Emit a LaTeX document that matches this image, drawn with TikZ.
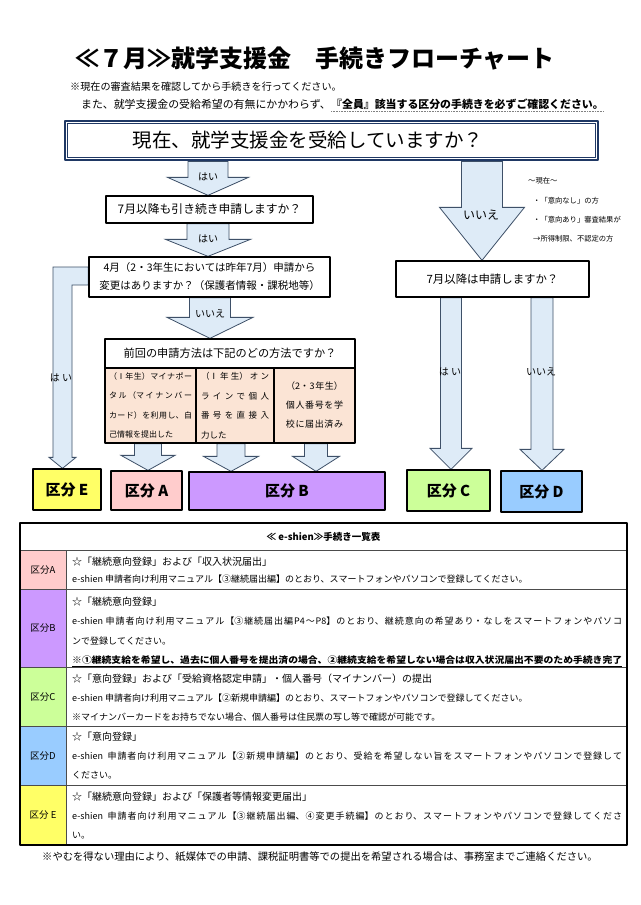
\documentclass[tikz,border=0pt]{standalone}
\usepackage{fontspec}
\setmainfont{Noto Sans CJK JP}
\usepackage{graphicx}
\usetikzlibrary{backgrounds,calc}
\XeTeXlinebreaklocale "ja"
\XeTeXlinebreakskip=0pt plus 1.5pt

\definecolor{navy}{HTML}{1F3864}
\definecolor{arrowfill}{HTML}{DEEBF7}
\definecolor{arrowline}{HTML}{3E5068}
\definecolor{peach}{HTML}{FBE4D5}
\definecolor{kuA}{HTML}{FFCCCC}
\definecolor{kuB}{HTML}{CC99FF}
\definecolor{kuC}{HTML}{CCFF99}
\definecolor{kuD}{HTML}{99CCFF}
\definecolor{kuE}{HTML}{FFFF66}

% downward block arrow: start, tip, half shaft, half head, head length
\newcommand{\blockarr}[5]{%
  \draw[arrowbody] let \p1=(#1), \p2=(#2) in
    (\x2-#3pt,\y1) -- (\x2-#3pt,\y2+#5pt) -- (\x2-#4pt,\y2+#5pt) -- (\x2,\y2)
    -- (\x2+#4pt,\y2+#5pt) -- (\x2+#3pt,\y2+#5pt) -- (\x2+#3pt,\y1) -- cycle;}

\begin{document}
\begin{tikzpicture}[x=1pt,y=-1pt,line join=round,
  qbox/.style={draw,line width=1.3pt,fill=white,inner sep=0pt},
  subbox/.style={draw,line width=1.2pt,fill=peach,inner ysep=0pt,minimum height=75pt,align=justify},
  kubun/.style={draw,line width=1.3pt,inner sep=0pt,font=\fontsize{15}{18}\bfseries\selectfont},
  arrowbody/.style={fill=arrowfill,draw=arrowline,line width=0.8pt},
  yesno/.style={font=\fontsize{10}{12}\selectfont},
  cell/.style={anchor=base west,inner sep=0pt,text width=550pt,align=justify},
  rowline/.style={draw=gray!60!black,line width=0.8pt}]
\useasboundingbox (0,0) rectangle (640,905);

% title and notes
\node[font=\fontsize{24}{28}\bfseries\selectfont] (title) at (315,58) {≪７月≫就学支援金　手続きフローチャート};
\node[anchor=west,inner sep=0pt,font=\fontsize{10.1}{12}\selectfont] (note1) at (70,87) {※現在の審査結果を確認してから手続きを行ってください。};
\node[anchor=base west,inner sep=0pt,font=\fontsize{10.9}{12}\selectfont] (note2) at (70,108) {　また、就学支援金の受給希望の有無にかかわらず、};
\node[anchor=base west,inner sep=0pt,font=\fontsize{10.9}{12}\bfseries\selectfont] (note2b) at (note2.base east) {『全員』該当する区分の手続きを必ずご確認ください。};
\draw[gray,densely dotted,line width=0.6pt] ([yshift=-1.5pt]note2b.south west) -- ([yshift=-1.5pt]note2b.south east);

% questions
\node[draw=navy,line width=2.8pt,minimum width=533pt,minimum height=39pt,inner sep=0pt] (q0) at (331.5,140.5) {};
\draw[navy,line width=1.1pt] ([shift={(3.6pt,-3.6pt)}]q0.north west) rectangle ([shift={(-3.6pt,3.6pt)}]q0.south east);
\node[font=\fontsize{19.5}{22}\selectfont] (q0txt) at (308,140.5) {現在、就学支援金を受給していますか？};
\node[qbox,minimum width=207pt,minimum height=27pt,font=\fontsize{11.8}{14}\selectfont] (q1) at (209.5,209.5) {7月以降も引き続き申請しますか？};
\node[qbox,minimum width=241pt,minimum height=40pt,align=center,font=\fontsize{10.5}{18}\selectfont] (q2) at (209.5,277) {4月（2・3年生においては昨年7月）申請から\\変更はありますか？（保護者情報・課税地等）};
\node[qbox,minimum width=250pt,minimum height=29pt,font=\fontsize{11.2}{14}\selectfont] (q3) at (230,353.5) {前回の申請方法は下記のどの方法ですか？};
\node[subbox,minimum width=91pt,text width=83pt,inner xsep=4pt,font=\fontsize{8}{19.5}\selectfont] (m1) at (150.5,405.5) {（Ⅰ年生）マイナポー\linebreak タル（マイナンバー\linebreak カード）を利用し、自\linebreak 己情報を提出した};
\node[subbox,minimum width=78pt,text width=68pt,inner xsep=5pt,font=\fontsize{8.5}{19.5}\selectfont] (m2) at (235,405.5) {（Ⅰ年生）オン\linebreak ラインで個人\linebreak 番号を直接入\linebreak 力した};
\node[subbox,minimum width=81pt,text width=72pt,inner xsep=4.5pt,align=center,font=\fontsize{9}{19}\selectfont] (m3) at (314.5,405.5) {（2・3年生）\\個人番号を学\\校に届出済み};
\node[qbox,minimum width=193pt,minimum height=36pt,font=\fontsize{11.4}{14}\selectfont] (q4) at (492.5,279) {7月以降は申請しますか？};
\node[anchor=north west,inner sep=0pt,align=left,font=\fontsize{7.3}{19.3}\selectfont] (memo) at (528,177.5) {～現在～\\\hspace*{5pt}・「意向なし」の方\\\hspace*{5pt}・「意向あり」審査結果が\\\hspace*{5pt}→所得制限、不認定の方};

% categories
\node[kubun,fill=kuE,minimum width=68pt,minimum height=41pt] (kE) at (67,489.5) {区分 E};
\node[kubun,fill=kuA,minimum width=71pt,minimum height=39pt] (kA) at (146.5,490.5) {区分 A};
\node[kubun,fill=kuB,minimum width=196pt,minimum height=38pt] (kB) at (287,491) {区分 B};
\node[kubun,fill=kuC,minimum width=83pt,minimum height=41pt] (kC) at (448.5,490.5) {区分 C};
\node[kubun,fill=kuD,minimum width=81pt,minimum height=41pt] (kD) at (541.5,491.5) {区分 D};

% arrow tips
\path (q1.north) ++(-1.5,0) coordinate (t1);
\path (q2.north) ++(-1.5,0) coordinate (t2);
\path (q3.north) ++(-20,0) coordinate (t3);
\path (q4.north) ++(-10.5,0) coordinate (t4);
\path (kC.north) ++(2.5,0) coordinate (tC);
\path (kD.north) ++(0.5,0) coordinate (tD);
\path (kA.north) ++(1.5,0) coordinate (tA);
\path (kB.north) ++(-56,0) coordinate (tB1);
\path (kB.north) ++(29,0) coordinate (tB2);
\path (kE.north) ++(-4.5,0) coordinate (tE);

\begin{scope}[on background layer]
  \fill[white] (0,0) rectangle (640,905);
  \blockarr{q0.south}{t1}{20}{40.5}{18}
  \blockarr{q1.south}{t2}{21}{42.5}{17}
  \blockarr{q2.south}{t3}{20.5}{43}{21}
  \blockarr{q0.south}{t4}{20.5}{42.5}{53}
  \blockarr{q4.south}{tC}{10.5}{21}{21}
  \blockarr{q4.south}{tD}{11}{22}{21}
  \blockarr{m1.south}{tA}{13.5}{27}{15}
  \blockarr{m2.south}{tB1}{14}{27.5}{15}
  \blockarr{m3.south}{tB2}{11.5}{23.5}{15}
  % bent arrow to E
  \draw[arrowbody] let \p1=(q2.west), \p2=(tE) in
    (\x1,\y1+10pt) -- (\x2-9.5pt,\y1+10pt) -- (\x2-9.5pt,\y2+11pt) -- (\x2-13.5pt,\y2+11pt)
    -- (\x2,\y2) -- (\x2+13.5pt,\y2+11pt) -- (\x2+9.5pt,\y2+11pt) -- (\x2+9.5pt,\y1-8pt)
    -- (\x1,\y1-8pt) -- cycle;
\end{scope}

% arrow labels
\node[yesno] (yes1) at (208,177) {はい};
\node[yesno] (yes2) at (208,239) {はい};
\node[yesno] (no3) at (210,314) {いいえ};
\node[font=\fontsize{12}{14}\selectfont] (no0) at (481,215) {いいえ};
\node[yesno] (yesE) at (61,378) {は い};
\node[yesno] (yesC) at (450,372) {は い};
\node[yesno] (noD) at (541,372) {いいえ};

% table
\fill[kuA] (20,550) rectangle (66,589);
\fill[kuB] (20,589) rectangle (66,667);
\fill[kuC] (20,667) rectangle (66,726);
\fill[kuD] (20,726) rectangle (66,785);
\fill[kuE] (20,785) rectangle (66,845);
\foreach \yy in {550,589,667,726,785}
  \draw[rowline] (20,\yy) -- (627,\yy);
\draw[rowline] (66,550) -- (66,845);
\draw[line width=1.8pt] (20,523) rectangle (627,845);

\node[font=\fontsize{9.5}{12}\bfseries\selectfont] (tabhead) at (323.5,537) {≪ e-shien≫手続き一覧表};
\node[font=\fontsize{9.5}{12}\selectfont] (labA) at (43,569.5) {区分A};
\node[font=\fontsize{9.5}{12}\selectfont] (labB) at (43,628) {区分B};
\node[font=\fontsize{9.5}{12}\selectfont] (labC) at (43,696.5) {区分C};
\node[font=\fontsize{9.5}{12}\selectfont] (labD) at (43,755.5) {区分D};
\node[font=\fontsize{9.5}{12}\selectfont] (labE) at (43,815) {区分 E};

\node[cell,font=\fontsize{9}{17}\selectfont] (rowA) at (72,565) {{\fontsize{10}{17}\selectfont ☆「継続意向登録」および「収入状況届出」}\\e-shien 申請者向け利用マニュアル【③継続届出編】のとおり、スマートフォンやパソコンで登録してください。};
\node[cell,font=\fontsize{9}{19.6}\selectfont] (rowB) at (72,605) {{\fontsize{10}{19.6}\selectfont ☆「継続意向登録」}\\e-shien 申請者向け利用マニュアル【③継続届出編P4～P8】のとおり、継続意向の希望あり・なしをスマートフォンやパソコ\linebreak ンで登録してください。\\\resizebox{550pt}{\height}{\underline{\bfseries ※①継続支給を希望し、過去に個人番号を提出済の場合、②継続支給を希望しない場合は収入状況届出不要のため手続き完了}}};
\node[cell,font=\fontsize{9}{19}\selectfont] (rowC) at (72,682) {{\fontsize{10}{19}\selectfont ☆「意向登録」および「受給資格認定申請」・個人番号（マイナンバー）の提出}\\e-shien 申請者向け利用マニュアル【②新規申請編】のとおり、スマートフォンやパソコンで登録してください。\\※マイナンバーカードをお持ちでない場合、個人番号は住民票の写し等で確認が可能です。};
\node[cell,font=\fontsize{9}{19}\selectfont] (rowD) at (72,740) {{\fontsize{10}{19}\selectfont ☆「意向登録」}\\e-shien\enspace 申請者向け利用マニュアル【②新規申請編】のとおり、受給を希望しない旨をスマートフォンやパソコンで登録して\linebreak ください。};
\node[cell,font=\fontsize{9}{19}\selectfont] (rowE) at (72,800) {{\fontsize{10}{19}\selectfont ☆「継続意向登録」および「保護者等情報変更届出」}\\e-shien\enspace 申請者向け利用マニュアル【③継続届出編、④変更手続編】のとおり、スマートフォンやパソコンで登録してくださ\linebreak い。};

\node[font=\fontsize{10.3}{12}\selectfont] (foot) at (320,857) {※やむを得ない理由により、紙媒体での申請、課税証明書等での提出を希望される場合は、事務室までご連絡ください。};
\end{tikzpicture}
\end{document}
